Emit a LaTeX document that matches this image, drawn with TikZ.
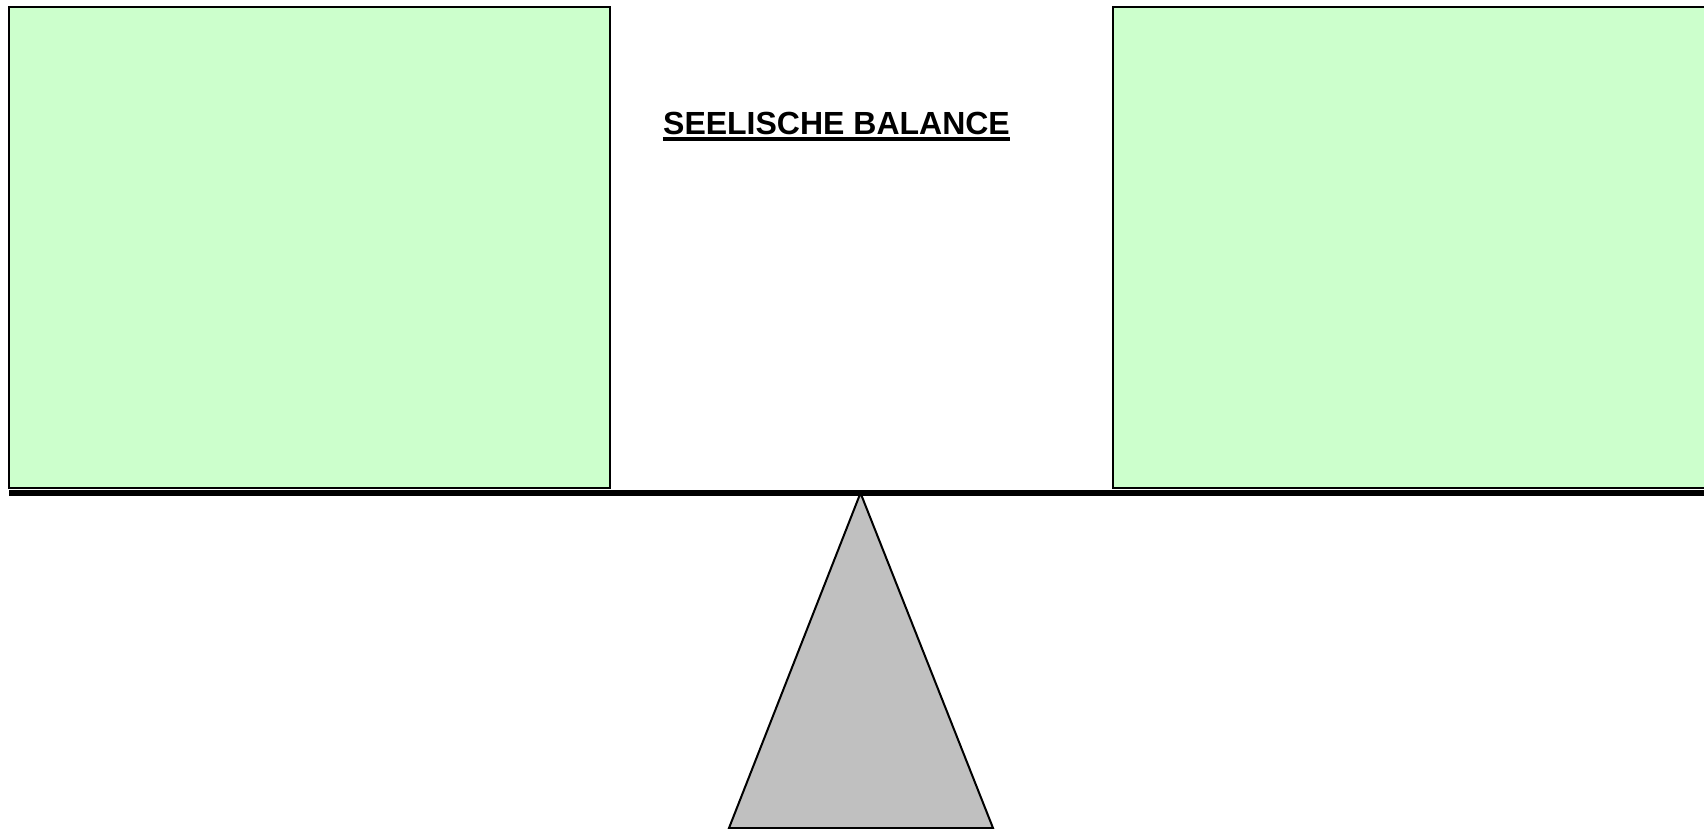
\documentclass[tikz,border=0pt]{standalone}
\usepackage{fontspec}
\setmainfont{Liberation Sans}
\definecolor{boxgreen}{RGB}{204,255,204}
\definecolor{fulcrum}{RGB}{192,192,192}
\tikzset{
  pan/.style={draw=black, fill=boxgreen, line width=2pt},
  beam/.style={draw=black, line width=6pt},
  pivot/.style={draw=black, fill=fulcrum, line width=2pt, line join=miter},
  title/.style={font=\fontsize{32}{36}\selectfont\bfseries, inner sep=0pt, anchor=base}
}
\begin{document}
\begin{tikzpicture}[x=1pt,y=-1pt]
\useasboundingbox (0,0) rectangle (1704,829);
\begin{scope}
\clip (0,0) rectangle (1704,829);
\draw[pan] (9,7.5) rectangle (609.5,488);
\draw[pan] (1113,7.5) rectangle (1720,488);
\coordinate (bl) at (9,493);
\coordinate (br) at (1720,493);
\draw[beam] (bl) -- (br);
\coordinate (apex) at (860.5,493);
\coordinate (baseL) at (729,828);
\coordinate (baseR) at (993,828);
\draw[pivot] (apex) -- (baseR) -- (baseL) -- cycle;
\end{scope}
\node[title] (t) at (836.5,134.3) {SEELISCHE BALANCE};
\draw[line width=3.3pt] ([yshift=-4.8pt]t.base west) -- ([yshift=-4.8pt]t.base east);
\end{tikzpicture}
\end{document}
